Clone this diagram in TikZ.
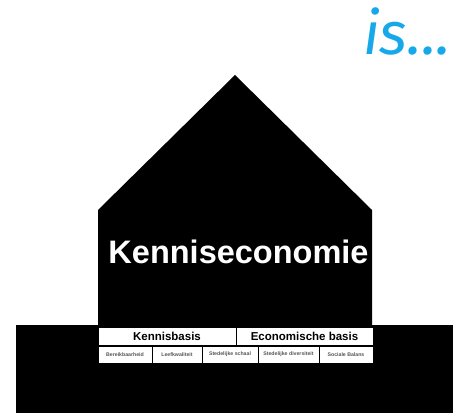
\documentclass[tikz,border=0pt]{standalone}
\usepackage{fontspec}
\setmainfont{Liberation Sans}
\newfontfamily\isfont{Fira Sans}
\definecolor{isblue}{RGB}{22,168,232}
\definecolor{labgray}{RGB}{85,85,85}
\tikzset{
  topbox/.style={draw=black, line width=0.7pt, fill=white, minimum height=18pt, inner sep=0pt, font=\bfseries\fontsize{11.5}{12}\selectfont},
  pillar/.style={draw=black, line width=0.7pt, fill=white, minimum height=17pt, inner sep=0pt, text=labgray, font=\bfseries\fontsize{5.2}{6}\selectfont},
}
\begin{document}
\begin{tikzpicture}[x=1pt,y=-1pt]
\useasboundingbox (0,0) rectangle (454,419);
% ground
\fill[black] (16,325) rectangle (453,413);
% house
\fill[black] (98,326) -- (98,210) -- (235,75) -- (372,210) -- (372,326) -- cycle;
\node[text=white, font=\bfseries\fontsize{32.5}{38}\selectfont, anchor=base] (title) at (238.5,263) {Kenniseconomie};
\node[text=isblue, font=\isfont\itshape\fontsize{60}{70}\selectfont, anchor=base west, inner sep=0pt] (is) at (363,55) {is...};
% top row
\node[topbox, minimum width=138pt] (kb) at (167,336) {Kennisbasis};
\node[topbox, minimum width=137pt] (eb) at (304.5,336) {Economische basis};
% pillars
\node[pillar, minimum width=54pt] (p1) at (125,354.5) {Bereikbaarheid};
\node[pillar, minimum width=50pt] (p2) at (177,354.5) {Leefkwaliteit};
\node[pillar, minimum width=56pt] (p3) at (230,354.5) {Stedelijke schaal};
\node[pillar, minimum width=61pt] (p4) at (288.5,354.5) {Stedelijke diversiteit};
\node[pillar, minimum width=54pt] (p5) at (346,354.5) {Sociale Balans};
\end{tikzpicture}
\end{document}
